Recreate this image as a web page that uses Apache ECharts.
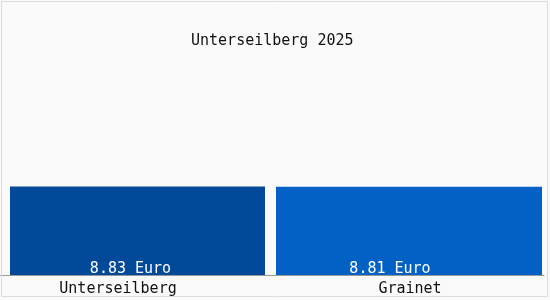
<!DOCTYPE html>
<html>
<head>
<meta charset="utf-8">
<script src="https://cdn.jsdelivr.net/npm/echarts@6/dist/echarts.min.js"></script>
<style>html,body{margin:0;padding:0;background:#fff;}#c{width:550px;height:300px;}</style>
</head>
<body>
<div id="c"></div>
<script>
const categories = ['Unterseilberg', 'Grainet'];
const values = [8.83, 8.81];
const barColors = ['#03499a', '#0361c6'];
const titleText = 'Unterseilberg 2025';
const unit = 'Euro';

const FONT = 'DejaVu Sans Mono';
const grids = [
  { left: 0, width: 275, top: 98, bottom: 25 },
  { left: 274, right: 6, top: 98, bottom: 25 }
];
const barWidths = [255, 266];
const labelOffsets = [[-7, 0], [-19, 0]];
const catPadding = [[0, 39, 0, 0], [0, 0, 0, 2]];

const chart = echarts.init(document.getElementById('c'));
chart.setOption({
  backgroundColor: '#fafafa',
  animation: false,
  title: {
    text: titleText, left: 186, top: 29,
    textStyle: { fontFamily: FONT, fontSize: 15, fontWeight: 'normal', color: '#111' }
  },
  graphic: [{
    type: 'rect', shape: { x: 1.5, y: 1.5, width: 546, height: 295 },
    style: { fill: 'none', stroke: '#dcdcdc', lineWidth: 1 }, silent: true, z: 100
  }],
  grid: grids,
  xAxis: categories.map((c, i) => ({
    type: 'category', gridIndex: i, data: [c],
    axisLine: { lineStyle: { color: '#999', width: 1 } },
    axisTick: { show: false },
    axisLabel: {
      margin: 7, color: '#111', fontFamily: FONT, fontSize: 15,
      formatter: v => '{a|' + v + '}',
      rich: { a: { fontFamily: FONT, fontSize: 15, color: '#111', padding: catPadding[i] } }
    }
  })),
  yAxis: categories.map((c, i) => ({
    type: 'value', gridIndex: i, min: 0, max: 17.66, show: false, splitLine: { show: false }
  })),
  series: categories.map((c, i) => ({
    type: 'bar', xAxisIndex: i, yAxisIndex: i, barWidth: barWidths[i],
    data: [{ value: values[i], itemStyle: { color: barColors[i] } }],
    label: {
      show: true, position: 'insideBottom', distance: -2, offset: labelOffsets[i],
      color: '#fff', fontFamily: FONT, fontSize: 15,
      formatter: p => p.value.toFixed(2) + ' ' + unit
    }
  }))
});
</script>
</body>
</html>
